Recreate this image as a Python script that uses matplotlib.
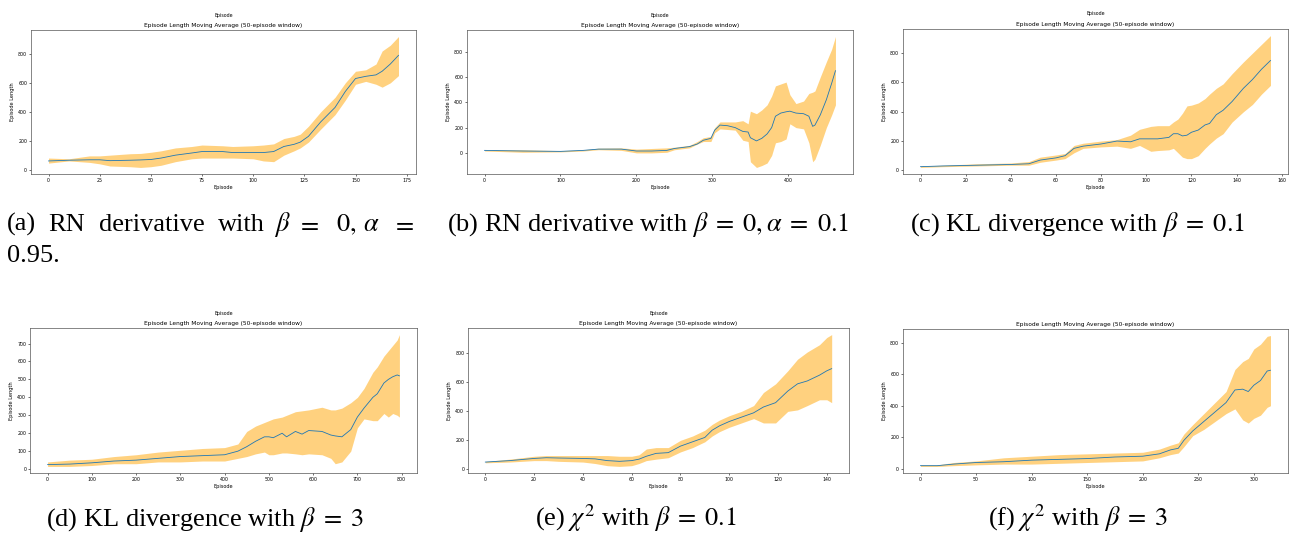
import matplotlib
matplotlib.use("Agg")
import matplotlib.pyplot as plt

plt.rcParams["mathtext.fontset"] = "stix"

W, H = 1289, 534

# (a) RN derivative, beta=0, alpha=0.95
a_x = [0, 10, 20, 25, 30, 40, 45, 50, 55, 62, 70, 75, 85, 90, 100, 105, 110, 115, 120, 123,
       127, 133, 140, 145, 150, 155, 160, 163, 167, 171]
a_mean = [60, 65, 68, 68, 62, 65, 67, 70, 80, 100, 115, 125, 125, 118, 118, 118, 125, 160, 175, 190,
          230, 330, 430, 540, 630, 645, 655, 680, 730, 790]
a_up = [80, 75, 95, 95, 100, 110, 112, 120, 130, 150, 160, 170, 165, 160, 165, 170, 178, 215, 230, 245,
        300, 400, 500, 600, 680, 690, 730, 820, 860, 920]
a_lo = [45, 60, 50, 40, 25, 20, 15, 20, 30, 55, 75, 80, 80, 80, 75, 60, 55, 100, 130, 150,
        190, 280, 380, 480, 590, 610, 590, 570, 600, 650]

# (b) RN derivative, beta=0, alpha=0.1
b_x = [0, 50, 100, 130, 150, 180, 200, 220, 240, 250, 270, 280, 288, 298, 303, 310, 320, 330, 340,
       347, 350, 358, 365, 372, 378, 383, 390, 397, 402, 410, 420, 427, 432, 435, 442, 450, 457, 462]
b_mean = [20, 15, 12, 20, 30, 30, 15, 15, 20, 35, 50, 70, 100, 115, 180, 220, 215, 200, 170,
          165, 120, 95, 115, 150, 200, 290, 315, 325, 330, 315, 310, 290, 210, 220, 300, 420, 550, 650]
b_up = [25, 25, 18, 25, 38, 40, 30, 35, 40, 45, 60, 90, 120, 130, 200, 245, 245, 245, 255,
        230, 330, 310, 340, 380, 450, 530, 545, 560, 460, 390, 410, 470, 480, 490, 600, 720, 820, 920]
b_lo = [15, 5, 8, 15, 25, 20, 0, 0, 5, 25, 40, 70, 90, 90, 160, 190, 185, 180, 100,
        90, -70, -115, -100, -80, -20, 80, 90, 110, 230, 200, 190, 80, -70, -50, 60, 200, 300, 380]

# (c) KL divergence, beta=0.1
c_x = [0, 10, 25, 40, 48, 53, 60, 64, 68, 72, 80, 87, 93, 97, 102, 105, 110, 112, 114, 116,
       118, 120, 123, 126, 128, 131, 134, 138, 143, 147, 151, 155]
c_mean = [25, 30, 35, 40, 45, 70, 85, 100, 150, 165, 180, 200, 195, 215, 215, 215, 225, 250, 250, 235,
          240, 260, 275, 310, 320, 380, 410, 470, 560, 620, 690, 750]
c_up = [30, 35, 45, 50, 60, 90, 105, 115, 170, 185, 200, 210, 240, 280, 300, 305, 305, 330, 350, 390,
        440, 445, 460, 490, 520, 560, 590, 660, 740, 800, 860, 920]
c_lo = [20, 25, 30, 35, 35, 55, 70, 80, 120, 150, 160, 165, 150, 170, 130, 135, 140, 150, 120, 90,
        80, 80, 100, 150, 180, 220, 250, 330, 400, 450, 520, 580]

# (d) KL divergence, beta=3
d_x = [0, 50, 100, 150, 200, 250, 300, 350, 400, 430, 450, 470, 490, 500, 510, 530, 540, 560, 575,
       590, 620, 640, 650, 665, 685, 700, 715, 735, 745, 760, 770, 780, 790, 795]
d_mean = [25, 28, 35, 45, 50, 60, 70, 75, 80, 100, 125, 155, 180, 180, 175, 200, 180, 210, 195,
          215, 210, 190, 185, 180, 220, 290, 340, 400, 420, 480, 500, 515, 525, 520]
d_up = [40, 50, 55, 70, 80, 95, 105, 115, 120, 140, 210, 240, 260, 270, 280, 290, 300, 320, 325,
        330, 345, 330, 330, 340, 370, 400, 450, 540, 570, 630, 660, 690, 720, 750]
d_lo = [15, 15, 20, 30, 30, 40, 40, 45, 45, 60, 70, 85, 95, 80, 80, 90, 90, 85, 80,
        85, 80, 60, 30, 40, 100, 230, 280, 270, 270, 310, 290, 310, 300, 290]

# (e) chi^2, beta=0.1
e_x = [0, 10, 20, 25, 30, 40, 45, 50, 55, 60, 63, 66, 70, 75, 80, 85, 90, 93, 96, 100,
       105, 110, 114, 119, 124, 128, 132, 137, 140, 142]
e_mean = [50, 60, 75, 80, 78, 75, 72, 60, 55, 60, 70, 90, 110, 115, 160, 190, 220, 270, 300, 330,
          360, 390, 430, 460, 540, 590, 610, 650, 680, 695]
e_up = [55, 70, 90, 95, 95, 95, 95, 95, 90, 90, 100, 140, 150, 150, 200, 230, 270, 310, 340, 370,
        400, 440, 530, 590, 680, 760, 810, 860, 910, 930]
e_lo = [45, 50, 60, 60, 55, 50, 40, 25, 20, 25, 40, 60, 70, 80, 120, 150, 190, 230, 260, 290,
        320, 350, 320, 320, 400, 410, 440, 480, 480, 460]

# (f) chi^2, beta=3
f_x = [0, 15, 30, 50, 75, 100, 125, 150, 175, 200, 215, 225, 232, 237, 245, 255, 265, 275, 283,
       290, 295, 300, 306, 312, 315]
f_mean = [20, 20, 30, 40, 45, 55, 60, 65, 75, 80, 95, 120, 130, 180, 240, 300, 360, 420, 500,
          505, 490, 530, 560, 620, 625]
f_up = [25, 25, 40, 50, 70, 80, 90, 95, 100, 105, 125, 150, 165, 220, 280, 350, 420, 490, 630,
        680, 700, 760, 790, 840, 845]
f_lo = [15, 15, 20, 25, 30, 30, 35, 40, 45, 50, 70, 90, 100, 140, 210, 250, 300, 350, 380,
        310, 290, 320, 340, 390, 400]

# caption (a) is justified over two lines in the source, so its words are placed one by one
cap_a_words = ["(a)", "RN", "derivative", "with", r"$\beta$", r"$=$", r"$0,$", r"$\alpha$", r"$=$"]
cap_a_x = [7, 48, 99, 218, 274, 297, 336, 363, 392]
cap_a_line2 = "0.95."
captions = [
    r"(b) RN derivative with $\beta\;=\;0,\alpha\;=\;0.1$",
    r"(c) KL divergence with $\beta\;=\;0.1$",
    r"(d) KL divergence with $\beta\;=\;3$",
    r"(e) $\chi^2$ with $\beta\;=\;0.1$",
    r"(f) $\chi^2$ with $\beta\;=\;3$",
]
caption_pos = [(447, 231), (910, 231), (46, 526), (535, 526), (988, 526)]

# axes boxes in pixels: left, right, top, bottom
boxes = [
    (31, 416, 30, 174), (467, 853, 30, 174), (903, 1288, 29, 174),
    (30, 417, 328, 473), (468, 849, 328, 473), (903, 1288, 329, 473),
]
top_label = [True, True, True, True, True, False]

panels = [
    (a_x, a_mean, a_up, a_lo), (b_x, b_mean, b_up, b_lo), (c_x, c_mean, c_up, c_lo),
    (d_x, d_mean, d_up, d_lo), (e_x, e_mean, e_up, e_lo), (f_x, f_mean, f_up, f_lo),
]

fig = plt.figure(figsize=(W / 100, H / 100), dpi=100)

for (x, mean, up, lo), (l, r, t, b), show_top in zip(panels, boxes, top_label):
    ax = fig.add_axes([l / W, 1 - b / H, (r - l) / W, (b - t) / H])
    ax.fill_between(x, lo, up, color="orange", alpha=0.5, linewidth=0)
    ax.plot(x, mean, color="#1f77b4", linewidth=0.6)
    ax.set_title("Episode Length Moving Average (50-episode window)", fontsize=4.2, pad=2.5)
    ax.set_xlabel("Episode", fontsize=3.6, labelpad=1.5)
    ax.set_ylabel("Episode Length", fontsize=3.6, labelpad=2)
    ax.tick_params(labelsize=3.4, length=1.5, width=0.4, pad=1.2)
    for s in ax.spines.values():
        s.set_linewidth(0.5)
        s.set_color("#555555")
    if show_top:
        ax.text(0.5, 1 + 15 / (b - t), "Episode", transform=ax.transAxes,
                ha="center", va="center", fontsize=3.4)

CAP_FS = 19
for wx, word in zip(cap_a_x, cap_a_words):
    fig.text(wx / W, 1 - 231 / H, word, fontsize=CAP_FS, family="Liberation Serif",
             ha="left", va="baseline")
fig.text(7 / W, 1 - 262 / H, cap_a_line2, fontsize=CAP_FS, family="Liberation Serif",
         ha="left", va="baseline")
for (cx, cy), cap in zip(caption_pos, captions):
    fig.text(cx / W, 1 - cy / H, cap, fontsize=CAP_FS, family="Liberation Serif",
             ha="left", va="baseline")

fig.savefig("out.png", dpi=100)
